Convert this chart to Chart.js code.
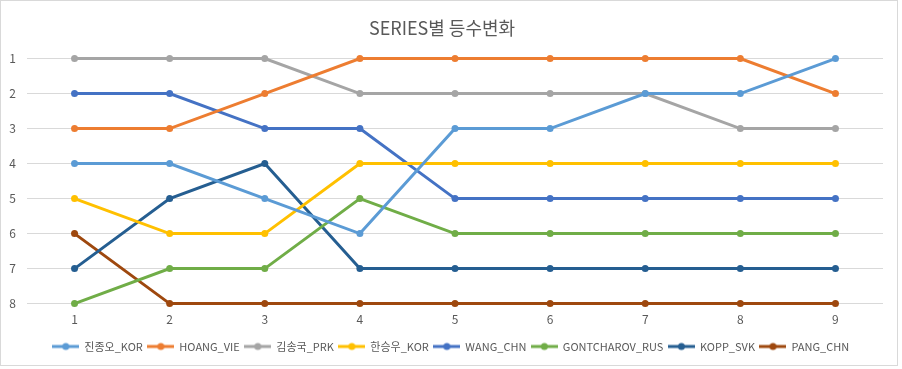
<!DOCTYPE html>
<html>
<head>
<meta charset="utf-8">
<script src="https://cdn.jsdelivr.net/npm/chart.js@4/dist/chart.umd.min.js"></script>
<style>
  body { margin: 0; background: #fff; }
  #wrap { width: 896px; height: 364px; border: 1px solid #d9d9d9; }
</style>
</head>
<body>
<div id="wrap"><canvas id="chart" width="896" height="364"></canvas></div>
<script>
// rank-change chart per series
const rounds = ['1', '2', '3', '4', '5', '6', '7', '8', '9'];
const rankTicks = [1, 2, 3, 4, 5, 6, 7, 8];

const names = ['진종오_KOR', 'HOANG_VIE', '김송국_PRK', '한승우_KOR', 'WANG_CHN', 'GONTCHAROV_RUS', 'KOPP_SVK', 'PANG_CHN'];
const jinJongOh   = [4, 4, 5, 6, 3, 3, 2, 2, 1];
const hoang       = [3, 3, 2, 1, 1, 1, 1, 1, 2];
const kimSongGuk  = [1, 1, 1, 2, 2, 2, 2, 3, 3];
const hanSeungWoo = [5, 6, 6, 4, 4, 4, 4, 4, 4];
const wang        = [2, 2, 3, 3, 5, 5, 5, 5, 5];
const gontcharov  = [8, 7, 7, 5, 6, 6, 6, 6, 6];
const kopp        = [7, 5, 4, 7, 7, 7, 7, 7, 7];
const pang        = [6, 8, 8, 8, 8, 8, 8, 8, 8];

const seriesValues = [jinJongOh, hoang, kimSongGuk, hanSeungWoo, wang, gontcharov, kopp, pang];
const colors = ['#5B9BD5', '#ED7D31', '#A5A5A5', '#FFC000', '#4472C4', '#70AD47', '#255E91', '#9E480E'];

const textColor = '#595959';
const fontFamily = "'Noto Sans CJK KR', 'Noto Sans', sans-serif";

// legend marker: short line with a dot in the middle, like Excel
function legendMarker(color) {
    const c = document.createElement('canvas');
    c.width = 27;
    c.height = 10;
    const g = c.getContext('2d');
    g.strokeStyle = color;
    g.lineWidth = 3;
    g.beginPath();
    g.moveTo(0, 5);
    g.lineTo(27, 5);
    g.stroke();
    g.fillStyle = color;
    g.beginPath();
    g.arc(13.5, 5, 3.5, 0, Math.PI * 2);
    g.fill();
    return c;
}

// Excel centres the legend on the whole chart box, not on the plot
const legendShift = {
    id: 'legendShift',
    afterLayout(chart) {
        if (chart.legend) {
            chart.legend.left += 9;
            chart.legend.right += 9;
        }
    }
};

const datasets = names.map((name, i) => ({
    label: name,
    data: seriesValues[i],
    borderColor: colors[i],
    backgroundColor: colors[i],
    borderWidth: 3,
    pointRadius: 3.5,
    pointBorderWidth: 0,
    pointBackgroundColor: colors[i],
    tension: 0,
    fill: false,
    clip: false
}));

new Chart(document.getElementById('chart'), {
    type: 'line',
    data: { labels: rounds, datasets: datasets },
    plugins: [legendShift],
    options: {
        responsive: false,
        animation: false,
        layout: { padding: { left: 0, right: 14, top: 0, bottom: 3 } },
        plugins: {
            title: {
                display: true,
                text: 'SERIES별 등수변화',
                color: textColor,
                font: { family: fontFamily, size: 18, weight: 'normal' },
                padding: { top: 16, bottom: 20 }
            },
            legend: {
                position: 'bottom',
                labels: {
                    color: textColor,
                    font: { family: fontFamily, size: 11 },
                    usePointStyle: true,
                    pointStyleWidth: 26,
                    padding: 5,
                    generateLabels: chart => chart.data.datasets.map((ds, i) => ({
                        text: ds.label,
                        fontColor: textColor,
                        pointStyle: legendMarker(colors[i]),
                        datasetIndex: i,
                        hidden: false,
                        lineWidth: 0,
                        strokeStyle: 'transparent'
                    }))
                }
            },
            tooltip: { enabled: false }
        },
        scales: {
            x: {
                offset: true,
                grid: { display: false, drawTicks: false },
                border: { display: false },
                ticks: {
                    color: textColor,
                    font: { family: fontFamily, size: 12 },
                    padding: 9
                }
            },
            y: {
                reverse: true,
                min: 1,
                max: 8,
                afterBuildTicks: axis => { axis.ticks = rankTicks.map(v => ({ value: v })); },
                afterFit: axis => { axis.width = 26; },
                grid: { color: '#D9D9D9', lineWidth: 1, drawTicks: false },
                border: { display: false },
                ticks: {
                    color: textColor,
                    font: { family: fontFamily, size: 12 },
                    padding: 11
                }
            }
        }
    }
});
</script>
</body>
</html>
